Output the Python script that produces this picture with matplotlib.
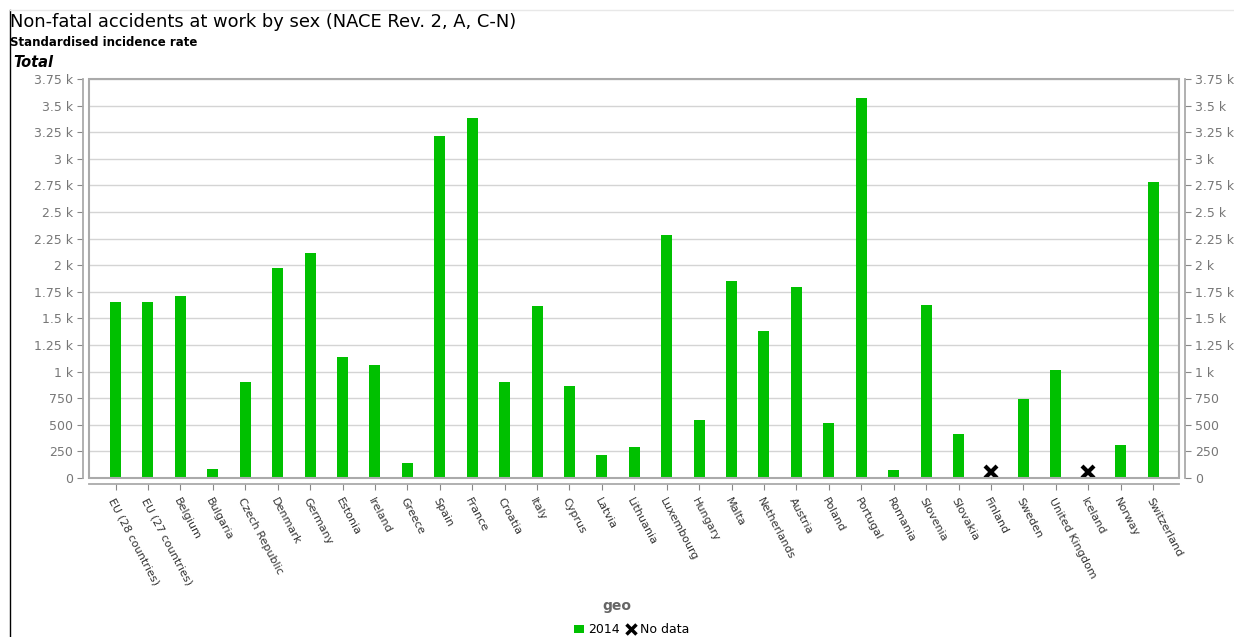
import numpy as np
import matplotlib
matplotlib.use('Agg')
import matplotlib.pyplot as plt
from matplotlib.lines import Line2D
from matplotlib.patches import Patch, Rectangle
from matplotlib.ticker import FuncFormatter

countries = ['EU (28 countries)', 'EU (27 countries)', 'Belgium', 'Bulgaria', 'Czech Republic',
             'Denmark', 'Germany', 'Estonia', 'Ireland', 'Greece', 'Spain', 'France', 'Croatia',
             'Italy', 'Cyprus', 'Latvia', 'Lithuania', 'Luxembourg', 'Hungary', 'Malta',
             'Netherlands', 'Austria', 'Poland', 'Portugal', 'Romania', 'Slovenia', 'Slovakia',
             'Finland', 'Sweden', 'United Kingdom', 'Iceland', 'Norway', 'Switzerland']
values_2014 = [1650, 1650, 1715, 85, 904, 1978, 2110, 1140, 1065, 141, 3212, 3382, 904,
               1620, 867, 217, 292, 2280, 546, 1856, 1385, 1799, 518, 3570, 75, 1630, 414,
               np.nan, 744, 1017, np.nan, 311, 2779]
no_data = ['Finland', 'Iceland']

green = '#00c000'
grey = '#888888'


def k_fmt(v, pos):
    if v >= 1000:
        return '{:g} k'.format(v / 1000)
    return '{:g}'.format(v)


fig = plt.figure(figsize=(12.34, 6.37), dpi=100)
ax = fig.add_axes([0.0721, 0.2496, 0.8833, 0.6264])

# axis lines sit a few pixels outside the plot frame (set first, it resets ticks)
for side in ['left', 'right', 'bottom']:
    ax.spines[side].set_position(('outward', 4))
    ax.spines[side].set_color('#aaaaaa')
    ax.spines[side].set_linewidth(1.3)
ax.spines['top'].set_visible(False)
ax.add_patch(Rectangle((0, 0), 1, 1, transform=ax.transAxes, fill=False,
                       edgecolor='#aaaaaa', linewidth=1.5, clip_on=False, zorder=5))

x = np.arange(len(countries))
ax.bar(x, values_2014, width=0.34, color=green, zorder=3)
nd_x = [countries.index(c) for c in no_data]
ax.plot(nd_x, [60] * len(nd_x), linestyle='none', marker='x', color='black',
        markersize=9, markeredgewidth=3, zorder=4)

ax.set_xlim(-0.82, len(countries) - 1 + 0.8)
ax.set_ylim(0, 3750)
ax.set_yticks(np.arange(0, 3751, 250))
ax.yaxis.set_major_formatter(FuncFormatter(k_fmt))
ax.grid(axis='y', color='#d4d4d4', linewidth=1, zorder=0)
ax.tick_params(axis='y', which='both', labelsize=9, labelcolor='#777777', color=grey,
               length=4, right=True, labelright=True)
ax.set_xticks(x)
ax.set_xticklabels(countries, rotation=-62, ha='left', va='top', rotation_mode='anchor',
                   fontsize=8, color='#333333')
ax.tick_params(axis='x', color=grey, length=4, pad=5)

fig.text(0.5, 0.048, 'geo', ha='center', va='center', fontsize=10, fontweight='bold',
         color='#666666')
handles = [Patch(facecolor=green, edgecolor='none', label='2014'),
           Line2D([], [], linestyle='none', marker='x', color='black', markersize=7,
                  markeredgewidth=2.5, label='No data')]
fig.legend(handles=handles, loc='center', bbox_to_anchor=(0.512, 0.011), ncol=2, frameon=False,
           fontsize=9, handlelength=0.8, handletextpad=0.3, columnspacing=0.5)

fig.text(0.0085, 0.966, 'Non-fatal accidents at work by sex (NACE Rev. 2, A, C-N)',
         ha='left', va='center', fontsize=12.9, color='black')
fig.text(0.0085, 0.933, 'Standardised incidence rate', ha='left', va='center',
         fontsize=8.5, fontweight='bold')
fig.text(0.0105, 0.902, 'Total', ha='left', va='center', fontsize=10.5,
         fontweight='bold', fontstyle='italic')
fig.add_artist(Line2D([0.0081, 0.0081], [0.0, 0.985], color='black', linewidth=1))
fig.add_artist(Line2D([0.0081, 1.0], [0.985, 0.985], color='#e8e8e8', linewidth=1))

fig.savefig('out.png', dpi=100)
